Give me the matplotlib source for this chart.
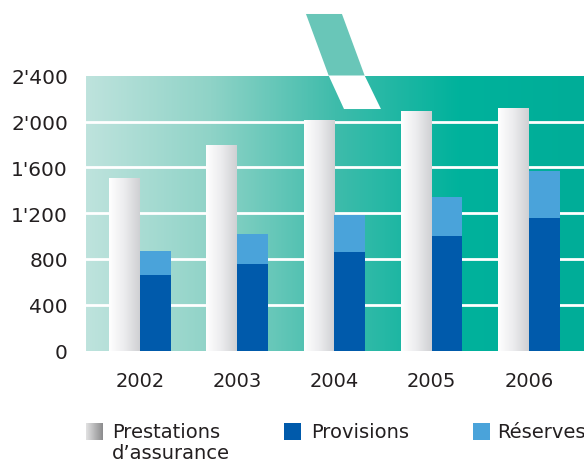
import numpy as np
import matplotlib
matplotlib.use("Agg")
import matplotlib.pyplot as plt
from matplotlib.colors import LinearSegmentedColormap
from matplotlib.patches import Polygon, Rectangle

# Data (millions)
years = ["2002", "2003", "2004", "2005", "2006"]
prestations = [1506, 1795, 2013, 2091, 2118]
provisions = [659, 755, 863, 1003, 1157]
reserves = [210, 262, 317, 340, 411]
y_ticks = [0, 400, 800, 1200, 1600, 2000, 2400]
y_labels = ["0", "400", "800", "1'200", "1'600", "2'000", "2'400"]
legend_labels = ["Prestations\nd\u2019assurance", "Provisions", "R\u00e9serves"]

TEXT = "#231f20"
C_PROV = "#005aab"
C_RES = "#4aa3da"
C_DECO = "#69c6b8"

plt.rcParams["font.family"] = ["DejaVu Sans"]

W, H = 584, 464
fig = plt.figure(figsize=(W / 100, H / 100), dpi=100)
ax = fig.add_axes([86 / W, (H - 351.5) / H, 1 - 86 / W, (351.5 - 76.7) / H])

x = np.arange(len(years))
w = 0.316
xlim = (-0.555, 4.566)
ylim = (0, 2400)

# horizontal teal gradient background
bg = LinearSegmentedColormap.from_list("bg", ["#bee3dd", "#8fd3c7", "#3fbcab", "#00b29c", "#00ad98"])
ax.imshow(np.linspace(0, 1, 256)[None, :], cmap=bg, aspect="auto",
          extent=[0, 1, 0, 1], transform=ax.transAxes, zorder=0)

# white gridlines
for t in y_ticks[1:-1]:
    ax.axhline(t, color="white", lw=2.0, zorder=1)

# Prestations bars with white-to-grey cylinder shading
bar_cm = LinearSegmentedColormap.from_list("bar", ["#ffffff", "#ececee", "#cfd0d3"])
bars = ax.bar(x - w / 2, prestations, w, color="#e8e8ea", zorder=2, linewidth=0)
for b in bars:
    im = ax.imshow(np.linspace(0, 1, 128)[None, :], cmap=bar_cm, aspect="auto",
                   extent=[b.get_x(), b.get_x() + b.get_width(), 0, b.get_height()],
                   zorder=3)
    im.set_clip_path(b)

# stacked Provisions + Réserves
ax.bar(x + w / 2, provisions, w, color=C_PROV, zorder=3, linewidth=0)
ax.bar(x + w / 2, reserves, w, bottom=provisions, color=C_RES, zorder=3, linewidth=0)

# slanted decorative band crossing the top edge
ax.add_patch(Polygon([[1.707, 2939], [2.077, 2939], [2.311, 2400], [1.941, 2400]],
                     closed=True, facecolor=C_DECO, edgecolor="none",
                     clip_on=False, zorder=4))
ax.add_patch(Polygon([[1.941, 2400], [2.311, 2400], [2.478, 2109], [2.098, 2109]],
                     closed=True, facecolor="white", edgecolor="none",
                     clip_on=False, zorder=4))

ax.set_xlim(*xlim)
ax.set_ylim(*ylim)
ax.set_xticks(x)
ax.set_xticklabels(years)
ax.set_yticks(y_ticks)
ax.set_yticklabels(y_labels)
ax.tick_params(axis="both", length=0, labelsize=14, colors=TEXT)
ax.tick_params(axis="y", pad=13, labelsize=14.5)
ax.tick_params(axis="x", pad=15)
for s in ax.spines.values():
    s.set_visible(False)

# legend drawn below the chart
sq = 17
leg_y = H - 441
def fx(px):
    return px / W
def fy(py):
    return py / H

gax = fig.add_axes([fx(86), fy(leg_y), fx(sq), fy(sq)])
gray_cm = LinearSegmentedColormap.from_list("g", ["#e2e2e2", "#8c8c8e"])
gax.imshow(np.linspace(0, 1, 64)[None, :], cmap=gray_cm, aspect="auto", extent=[0, 1, 0, 1])
gax.set_axis_off()

fig.patches.append(Rectangle((fx(284), fy(leg_y)), fx(sq), fy(sq), facecolor=C_PROV,
                             edgecolor="none", transform=fig.transFigure, figure=fig))
fig.patches.append(Rectangle((fx(473), fy(leg_y)), fx(sq), fy(sq), facecolor=C_RES,
                             edgecolor="none", transform=fig.transFigure, figure=fig))

fig.text(fx(112), fy(H - 423), legend_labels[0], fontsize=14, color=TEXT,
         va="top", ha="left", linespacing=1.15)
fig.text(fx(311), fy(H - 423), legend_labels[1], fontsize=14, color=TEXT, va="top", ha="left")
fig.text(fx(497), fy(H - 423), legend_labels[2], fontsize=14, color=TEXT, va="top", ha="left")

fig.savefig("out.png", dpi=100)
